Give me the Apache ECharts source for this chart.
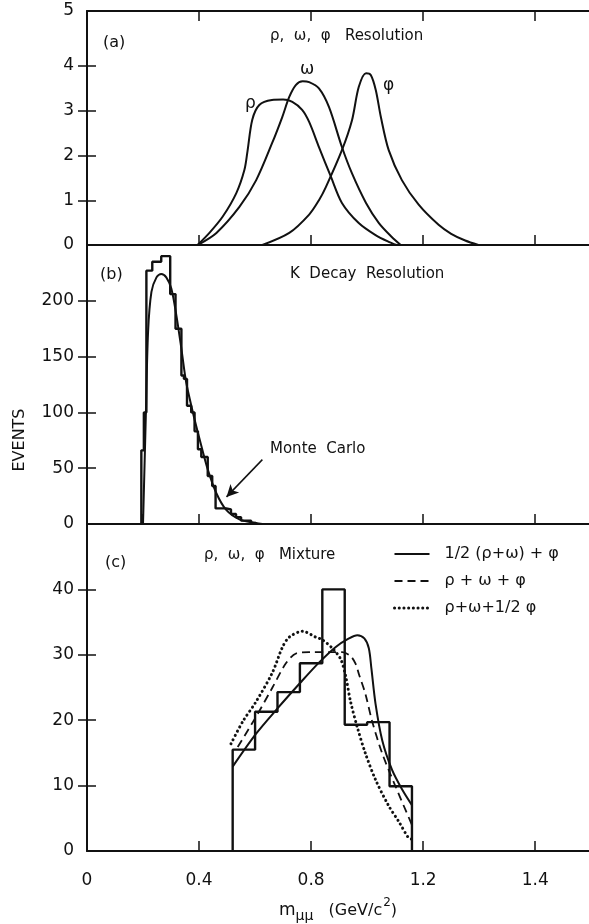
<!DOCTYPE html>
<html><head><meta charset="utf-8">
<script src="https://cdn.jsdelivr.net/npm/echarts@6/dist/echarts.min.js"></script>
<style>html,body{margin:0;padding:0;background:#fff}#c{width:589px;height:924px}</style>
</head><body><div id="c"></div>
<script>
// ---- axis ticks / labels ----
const xLabelVals = [0, 0.4, 0.8, 1.2, 1.6];
const xLabelText = ['0', '0.4', '0.8', '1.2', '1.4'];
const yLabelsA = [0, 1, 2, 3, 4, 5];
const yLabelsB = [0, 50, 100, 150, 200];
const yLabelsC = [0, 10, 20, 30, 40];

// ---- panel (a): resolution curves ----
const rhoX = [0.395,0.437,0.484,0.533,0.562,0.573,0.590,0.615,0.660,0.700,0.733,0.768,0.793,0.828,0.871,0.910,0.970,1.030,1.077,1.105];
const rhoY = [0,0.27,0.63,1.16,1.68,2.10,2.80,3.13,3.24,3.25,3.20,3.02,2.75,2.19,1.52,0.94,0.49,0.22,0.07,0];
const omegaX = [0.395,0.462,0.544,0.604,0.661,0.697,0.722,0.746,0.770,0.793,0.828,0.864,0.910,0.946,0.996,1.042,1.088,1.120];
const omegaY = [0,0.27,0.85,1.45,2.28,2.86,3.31,3.58,3.66,3.64,3.50,3.08,2.19,1.60,0.94,0.49,0.18,0];
const phiX = [0.626,0.722,0.793,0.828,0.853,0.910,0.946,0.970,0.996,1.013,1.031,1.049,1.077,1.124,1.184,1.255,1.300,1.350,1.397];
const phiY = [0,0.27,0.68,1.00,1.30,2.12,2.79,3.53,3.84,3.80,3.46,2.86,2.12,1.45,0.90,0.45,0.25,0.10,0];

// ---- panel (b): K decay histogram + Monte Carlo ----
const kEdges = [0.194,0.203,0.212,0.233,0.265,0.297,0.316,0.337,0.346,0.357,0.372,0.384,0.396,0.408,0.431,0.447,0.459,0.497,0.514,0.532,0.550,0.586,0.603];
const kCounts = [66,100,227,235,240,206,175,133,130,106,100,83,67,60,43,34,14,13,9,6,3,1];
const mcX = [0.200,0.210,0.218,0.230,0.248,0.265,0.283,0.301,0.319,0.337,0.354,0.378,0.402,0.431,0.461,0.497,0.544,0.603,0.626];
const mcY = [0,97,172,208,221,224,221,211,187,157,127,100,76,49,28,12.6,4.2,0.9,0];
const arrowFrom = [0.626, 57.7];
const arrowTo = [0.498, 24.3];

// ---- panel (c): mixture histogram + curves ----
const mEdges = [0.52,0.60,0.68,0.76,0.84,0.92,1.00,1.08,1.16];
const mCounts = [15.5,21.3,24.3,28.7,40,19.3,19.7,9.9];
const solidX = [0.520,0.603,0.680,0.763,0.828,0.888,0.935,0.965,0.990,1.006,1.015,1.030,1.054,1.089,1.125,1.160];
const solidY = [12.9,17.9,21.8,25.8,28.8,31.2,32.5,33.0,32.5,31.0,28.0,22.5,16.9,12.4,9.4,7.0];
const dashX = [0.538,0.603,0.662,0.710,0.746,0.793,0.864,0.911,0.941,0.959,0.971,0.994,1.018,1.054,1.101,1.160];
const dashY = [15.9,20.5,25.0,28.7,30.2,30.4,30.4,30.4,29.8,28.6,27.0,24.0,19.8,14.9,9.9,4.0];
const dotX = [0.514,0.556,0.603,0.662,0.698,0.722,0.769,0.817,0.840,0.876,0.906,0.923,0.941,0.965,0.994,1.030,1.077,1.113,1.148,1.160];
const dotY = [16.4,19.8,22.8,27.3,31.2,32.7,33.6,32.7,32.3,31.0,29.3,26.8,22.8,18.9,14.9,10.9,6.9,4.5,2.0,1.8];
const legendNames = ['1/2 (\u03c1+\u03c9) + \u03c6', '\u03c1 + \u03c9 + \u03c6', '\u03c1+\u03c9+1/2 \u03c6'];

// ---- helpers ----
const zip = (a, b) => a.map((v, i) => [v, b[i]]);
function steps(edges, counts) {
  const pts = [[edges[0], 0]];
  counts.forEach((c, i) => { pts.push([edges[i], c]); pts.push([edges[i + 1], c]); });
  pts.push([edges[edges.length - 1], 0]);
  return pts;
}

const FONT = 'DejaVu Sans';
const X_MAX = 1.792;
const black = '#111';
const lineW = 2;
const dashStyle = { type: [8, 5], width: 1.8 };
const dotStyle = { type: [0.1, 4.6], cap: 'round', width: 3 };

function xAxis(gi, opts) {
  return Object.assign({
    type: 'value', gridIndex: gi, min: 0, max: X_MAX,
    axisLine: { show: true, onZero: false, lineStyle: { color: black, width: 2 } },
    axisTick: { show: true, inside: true, length: 10, lineStyle: { color: black, width: 1.5 }, customValues: [0.4, 0.8, 1.2, 1.6] },
    axisLabel: { show: false },
    splitLine: { show: false }
  }, opts || {});
}
function yAxisLeft(gi, max, labels, ticks, fmt) {
  return {
    type: 'value', gridIndex: gi, min: 0, max: max, position: 'left',
    axisLine: { show: true, onZero: false, lineStyle: { color: black, width: 2 } },
    axisTick: { show: true, inside: true, length: 9, lineStyle: { color: black, width: 1.5 }, customValues: ticks },
    axisLabel: { show: true, margin: 13, color: black, fontFamily: FONT, fontSize: 17, customValues: labels, formatter: fmt || (v => String(v)) },
    splitLine: { show: false }
  };
}
function yAxisRight(gi, max, ticks) {
  return {
    type: 'value', gridIndex: gi, min: 0, max: max, position: 'right',
    axisLine: { show: false },
    axisTick: { show: true, inside: true, length: 9, lineStyle: { color: black, width: 1.5 }, customValues: ticks },
    axisLabel: { show: false },
    splitLine: { show: false }
  };
}

const A_MAX = 5.23;
const curve = (name, data, xi, yi, ls) => ({
  name: name, type: 'line', data: data, xAxisIndex: xi, yAxisIndex: yi,
  symbol: 'none', smooth: 0.3, silent: true,
  lineStyle: Object.assign({ color: black, width: lineW }, ls || {}), itemStyle: { color: black },
  z: 3
});

const option = {
  backgroundColor: '#fff',
  animation: false,
  grid: [
    { left: 87, right: -2, top: 11, height: 234 },
    { left: 87, right: -2, top: 245, height: 279 },
    { left: 87, right: -2, top: 524, height: 336 }
  ],
  xAxis: [
    xAxis(0),
    xAxis(1, { axisTick: { show: true, inside: true, length: 10, lineStyle: { color: black, width: 1.5 }, customValues: [0.2, 0.4, 0.8, 1.2, 1.6] } }),
    xAxis(2, {
      axisLabel: { show: true, margin: 21, color: black, fontFamily: FONT, fontSize: 17, customValues: xLabelVals,
        formatter: v => xLabelText[xLabelVals.findIndex(t => Math.abs(t - v) < 1e-6)] },
      name: '{m|m}{s|\u03bc\u03bc}    {t|(GeV/c}{p|2}{t|)}',
      nameLocation: 'middle', nameGap: 46,
      nameTextStyle: { color: black, fontFamily: FONT, rich: {
        m: { fontSize: 17, fontFamily: FONT, color: black, verticalAlign: 'bottom', lineHeight: 22 },
        s: { fontSize: 14, fontFamily: FONT, color: black, verticalAlign: 'bottom', lineHeight: 22, padding: [0,0,-4,0] },
        t: { fontSize: 16, fontFamily: FONT, color: black, verticalAlign: 'bottom', lineHeight: 22 },
        p: { fontSize: 12, fontFamily: FONT, color: black, verticalAlign: 'top', lineHeight: 22, padding: [0,0,0,1] }
      } }
    }),
    xAxis(0, { position: 'top' })
  ],
  yAxis: [
    yAxisLeft(0, A_MAX, [0, 1, 2, 3, 4, A_MAX], [1, 2, 3, 4], v => (v > 5 ? String(yLabelsA[5]) : String(v))),
    yAxisLeft(1, 250, yLabelsB, [50, 100, 150, 200]),
    yAxisLeft(2, 50, yLabelsC, [10, 20, 30, 40]),
    yAxisRight(0, A_MAX, [1, 2, 3, 4]),
    yAxisRight(1, 250, [50, 100, 150, 200]),
    yAxisRight(2, 50, [10, 20, 30, 40])
  ],
  legend: {
    orient: 'vertical', left: 388, top: 541, itemGap: 11, itemWidth: 35, itemHeight: 14,
    data: [
      { name: legendNames[0] },
      { name: legendNames[1], lineStyle: dashStyle },
      { name: legendNames[2], lineStyle: dotStyle }
    ],
    selectedMode: false,
    itemStyle: { opacity: 0 },
    textStyle: { color: black, fontFamily: FONT, fontSize: 16, padding: [0, 0, 0, 10] }
  },
  series: [
    curve('rho', zip(rhoX, rhoY), 0, 0),
    curve('omega', zip(omegaX, omegaY), 0, 0),
    curve('phi', zip(phiX, phiY), 0, 0),
    { name: 'K hist', type: 'line', data: steps(kEdges, kCounts), xAxisIndex: 1, yAxisIndex: 1, symbol: 'none', silent: true,
      lineStyle: { color: black, width: 2.4 }, z: 4 },
    Object.assign(curve('Monte Carlo', zip(mcX, mcY), 1, 1), {
      markLine: { silent: true, symbol: ['none', 'arrow'], symbolSize: [9, 12], label: { show: false },
        lineStyle: { color: black, width: 1.5, type: 'solid' },
        data: [[{ coord: arrowFrom }, { coord: arrowTo }]] }
    }),
    { name: 'mix hist', type: 'line', data: steps(mEdges, mCounts), xAxisIndex: 2, yAxisIndex: 2, symbol: 'none', silent: true,
      lineStyle: { color: black, width: 2.4 }, z: 4 },
    curve(legendNames[0], zip(solidX, solidY), 2, 2),
    curve(legendNames[1], zip(dashX, dashY), 2, 2, dashStyle),
    curve(legendNames[2], zip(dotX, dotY), 2, 2, dotStyle)
  ],
  graphic: [
    { type: 'text', x: 103, y: 43, style: { text: '(a)', font: '16px "DejaVu Sans"', fill: black, textVerticalAlign: 'middle' } },
    { type: 'text', x: 270, y: 36, style: { text: '\u03c1,  \u03c9,  \u03c6   Resolution', font: '15px "DejaVu Sans"', fill: black, textVerticalAlign: 'middle' } },
    { type: 'text', x: 245, y: 104, style: { text: '\u03c1', font: '17px "DejaVu Sans"', fill: black, textVerticalAlign: 'middle' } },
    { type: 'text', x: 300, y: 70, style: { text: '\u03c9', font: '17px "DejaVu Sans"', fill: black, textVerticalAlign: 'middle' } },
    { type: 'text', x: 383, y: 86, style: { text: '\u03c6', font: '17px "DejaVu Sans"', fill: black, textVerticalAlign: 'middle' } },
    { type: 'text', x: 100, y: 275, style: { text: '(b)', font: '16px "DejaVu Sans"', fill: black, textVerticalAlign: 'middle' } },
    { type: 'text', x: 290, y: 274, style: { text: 'K  Decay  Resolution', font: '15px "DejaVu Sans"', fill: black, textVerticalAlign: 'middle' } },
    { type: 'text', x: 270, y: 449, style: { text: 'Monte  Carlo', font: '15px "DejaVu Sans"', fill: black, textVerticalAlign: 'middle' } },
    { type: 'text', x: 105, y: 563, style: { text: '(c)', font: '16px "DejaVu Sans"', fill: black, textVerticalAlign: 'middle' } },
    { type: 'text', x: 204, y: 555, style: { text: '\u03c1,  \u03c9,  \u03c6   Mixture', font: '15px "DejaVu Sans"', fill: black, textVerticalAlign: 'middle' } },
    { type: 'text', x: 20, y: 440, rotation: Math.PI / 2, style: { text: 'EVENTS', font: '16px "DejaVu Sans"', fill: black, textAlign: 'center', textVerticalAlign: 'middle' } }
  ]
};

const chart = echarts.init(document.getElementById('c'), null, { renderer: 'canvas' });
chart.setOption(option);
</script>
</body></html>
